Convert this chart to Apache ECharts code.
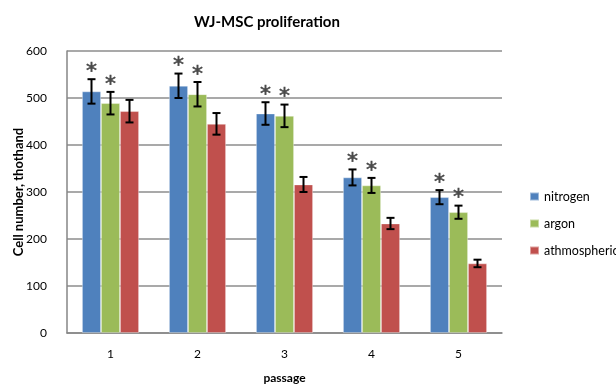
<!DOCTYPE html>
<html><head><meta charset="utf-8">
<script src="https://cdn.jsdelivr.net/npm/echarts@6/dist/echarts.min.js"></script>
<style>html,body{margin:0;padding:0;background:#fff}#c{width:616px;height:386px}</style>
</head><body><div id="c"></div>
<script>
var categories = ['1','2','3','4','5'];
var nitrogen = [514, 526, 467, 331, 289];
var argon = [489, 508, 462, 314, 257];
var atmospheric = [472, 445, 316, 233, 148];
var nitrogenErr = [26, 26, 24, 17, 15];
var argonErr = [24, 26, 24, 16, 14];
var atmosphericErr = [24, 23, 16, 12, 8];
var nitrogenStar = [true, true, true, true, true];
var argonStar = [true, true, true, true, true];
var atmosphericStar = [false, false, false, false, false];
var seriesNames = ['nitrogen', 'argon', 'athmospheric'];
var colors = ['#4F81BD', '#9BBB59', '#C0504D'];

var FONT = 'Lato';
var BW = 19;
var values = [nitrogen, argon, atmospheric];
var errs = [nitrogenErr, argonErr, atmosphericErr];
var stars = [nitrogenStar, argonStar, atmosphericStar];

var errData = [];
for (var s = 0; s < 3; s++) for (var i = 0; i < categories.length; i++)
  errData.push([i, values[s][i], errs[s][i], s, stars[s][i] ? 1 : 0]);

var chart = echarts.init(document.getElementById('c'));
var series = seriesNames.map(function (n, s) {
  return { name: n, type: 'bar', data: values[s], barWidth: BW, barGap: '0%',
    itemStyle: { color: colors[s], borderColor: 'rgba(255,255,255,0.45)', borderWidth: 0.8 } };
});
series.push({
  type: 'custom', data: errData, z: 10, silent: true,
  renderItem: function (params, api) {
    var i = api.value(0), v = api.value(1), e = api.value(2), s = api.value(3), st = api.value(4);
    var c = api.coord([i, v]);
    var x = c[0] + (s - 1) * BW;
    var top = api.coord([i, v + e])[1], bot = api.coord([i, v - e])[1];
    var style = { stroke: '#000', lineWidth: 2 };
    var children = [
      { type: 'line', shape: { x1: x, y1: top, x2: x, y2: bot }, style: style },
      { type: 'line', shape: { x1: x - 4, y1: top, x2: x + 4, y2: top }, style: style },
      { type: 'line', shape: { x1: x - 4, y1: bot, x2: x + 4, y2: bot }, style: style }
    ];
    if (st) children.push({ type: 'text', style: { text: '*', x: x, y: top + 4, textAlign: 'center', textVerticalAlign: 'bottom', fill: '#4a4a4a', stroke: '#4a4a4a', lineWidth: 0.6, font: '22px "DejaVu Sans"' } });
    return { type: 'group', children: children };
  }
});

chart.setOption({
  animation: false,
  title: { text: 'WJ-MSC proliferation', left: 262, top: 10, textAlign: 'center',
    textStyle: { fontFamily: FONT, fontWeight: 'bold', fontSize: 15, color: '#000' } },
  legend: { data: seriesNames, orient: 'vertical', left: 524, top: 185, itemWidth: 9, itemHeight: 8, itemGap: 14,
    icon: 'rect', textStyle: { fontFamily: FONT, fontSize: 12.5, color: '#000' } },
  grid: { left: 67, right: 114, top: 51, bottom: 53, containLabel: false, outerBoundsMode: 'none' },
  xAxis: { type: 'category', data: categories,
    name: 'passage', nameLocation: 'middle', nameGap: 39, nameMoveOverlap: false,
    nameTextStyle: { fontFamily: FONT, fontWeight: 'bold', fontSize: 12, color: '#000' },
    axisLine: { lineStyle: { color: '#868686', width: 1.5 } }, axisTick: { show: false },
    axisLabel: { fontFamily: FONT, fontSize: 12, color: '#000', margin: 15 } },
  yAxis: { type: 'value', min: 0, max: 600, interval: 100,
    name: 'Cell number, thothand', nameLocation: 'middle', nameGap: 42, nameRotate: 90, nameMoveOverlap: false,
    nameTextStyle: { fontFamily: FONT, fontWeight: 'bold', fontSize: 13, color: '#000' },
    axisLine: { show: true, lineStyle: { color: '#868686', width: 1.5 } }, axisTick: { show: false },
    splitLine: { lineStyle: { color: '#8c8c8c', width: 1.5 } },
    axisLabel: { fontFamily: FONT, fontSize: 12, color: '#000', margin: 20 } },
  series: series
});
</script></body></html>
